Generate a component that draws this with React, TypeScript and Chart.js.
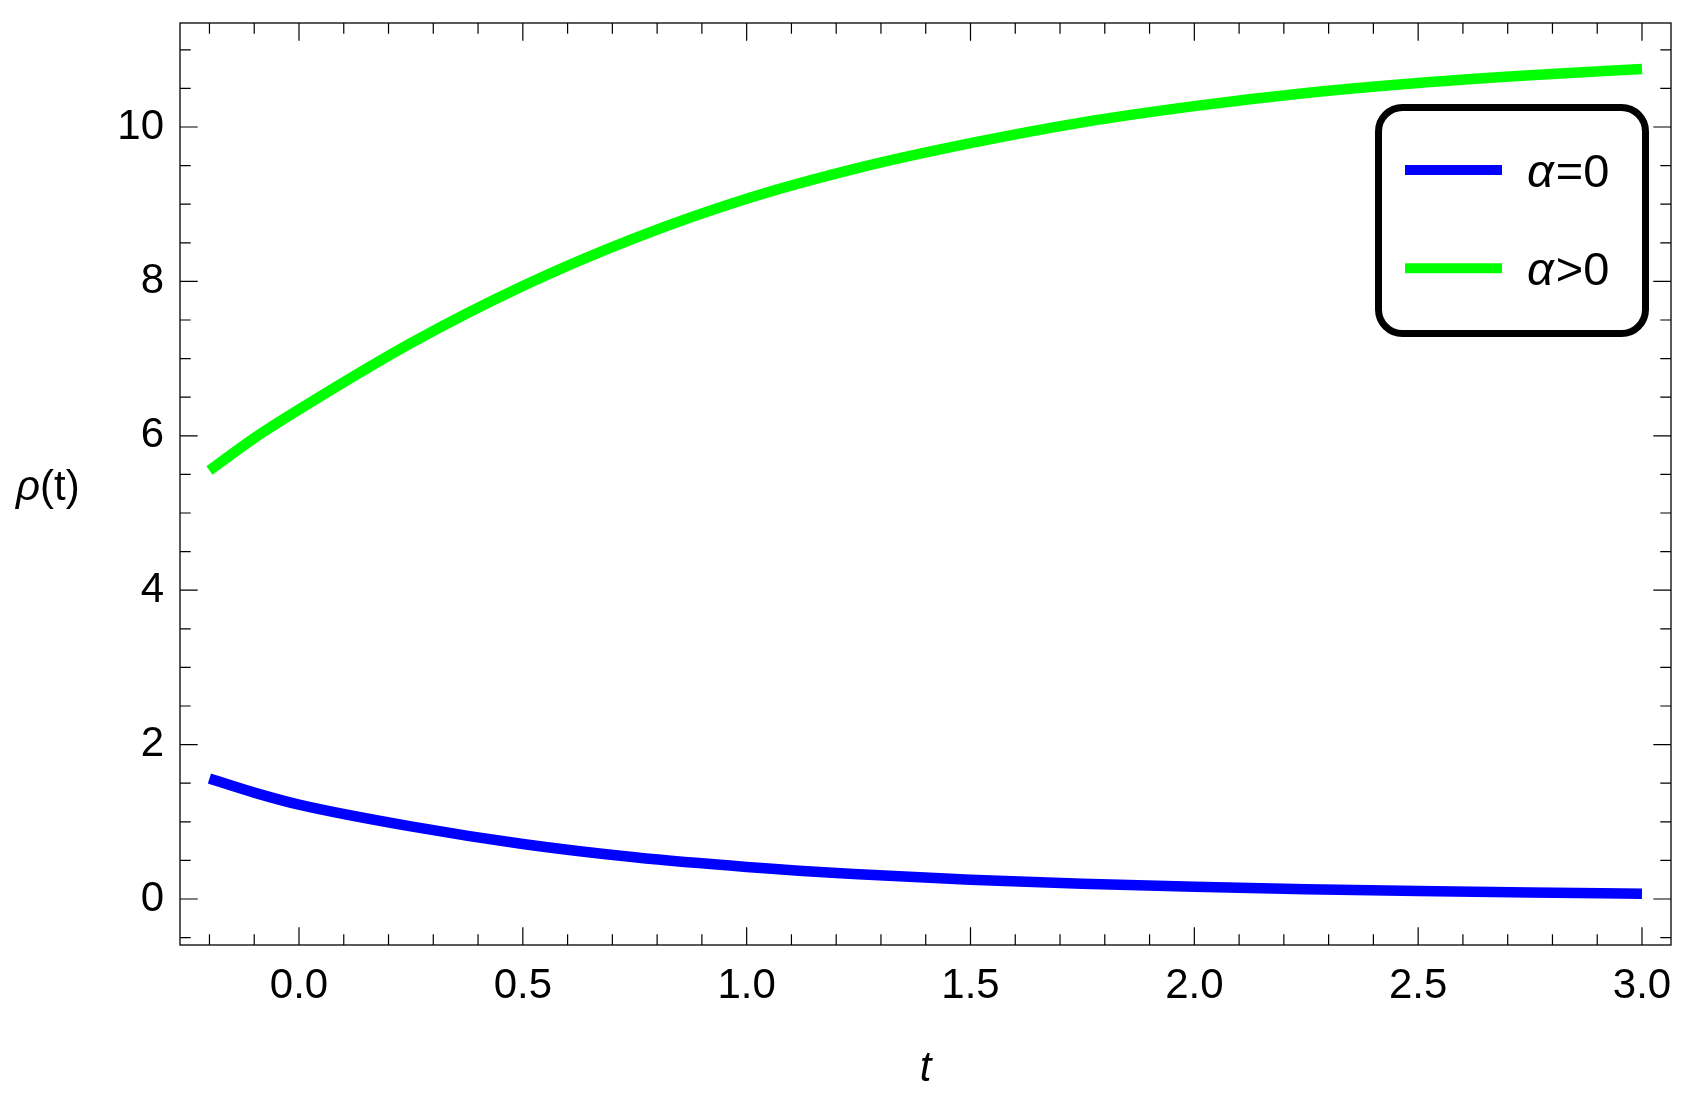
import React, { useEffect, useRef } from 'react';
import { Chart, registerables } from 'chart.js';

Chart.register(...registerables);

// ---- data ----
const tValues = [-0.2, -0.1, 0, 0.25, 0.5, 0.75, 1.0, 1.25, 1.5, 1.75, 2.0, 2.25, 2.5, 2.75, 3.0];
const rhoAlphaZero = [1.56, 1.378, 1.222, 0.94, 0.712, 0.54, 0.415, 0.32, 0.248, 0.196, 0.157, 0.127, 0.104, 0.085, 0.069];
const rhoAlphaPositive = [5.55, 5.97, 6.34, 7.2, 7.94, 8.56, 9.07, 9.47, 9.79, 10.06, 10.27, 10.44, 10.57, 10.67, 10.75];
const seriesLabels = ['α=0', 'α>0'];
const seriesColors = ['#0000ff', '#00ff00'];
const xTickValues = [0, 0.5, 1.0, 1.5, 2.0, 2.5, 3.0];
const yTickValues = [0, 2, 4, 6, 8, 10];
const xAxisTitle = 't';
const yAxisTitle = 'ρ(t)';

const X_MIN = -0.2658;
const X_MAX = 3.0648;
const Y_MIN = -0.596;
const Y_MAX = 11.347;
const X_MINOR_STEP = 0.1;
const Y_MINOR_STEP = 0.5;

const FONT = '"Liberation Sans", Arial, sans-serif';

const decorPlugin = {
  id: 'decor',
  afterDraw(chart: any) {
    const ctx = chart.ctx as CanvasRenderingContext2D;
    const { left, right, top, bottom } = chart.chartArea;
    const xs = chart.scales.x;
    const ys = chart.scales.y;
    ctx.save();
    // frame
    ctx.strokeStyle = '#000';
    ctx.lineWidth = 1.3;
    ctx.strokeRect(left, top, right - left, bottom - top);

    // ticks (inward on all sides)
    const majorLen = 17.7;
    const minorLen = 10.7;
    ctx.lineWidth = 1.2;
    ctx.beginPath();
    const isMajor = (v: number, arr: number[]) => arr.some((m) => Math.abs(m - v) < 1e-6);
    for (let i = Math.ceil(X_MIN / X_MINOR_STEP); i * X_MINOR_STEP <= X_MAX + 1e-9; i++) {
      const v = Math.round(i * X_MINOR_STEP * 1000) / 1000;
      const len = isMajor(v, xTickValues) ? majorLen : minorLen;
      const px = xs.getPixelForValue(v);
      ctx.moveTo(px, bottom);
      ctx.lineTo(px, bottom - len);
      ctx.moveTo(px, top);
      ctx.lineTo(px, top + len);
    }
    for (let i = Math.ceil(Y_MIN / Y_MINOR_STEP); i * Y_MINOR_STEP <= Y_MAX + 1e-9; i++) {
      const v = Math.round(i * Y_MINOR_STEP * 1000) / 1000;
      const len = isMajor(v, yTickValues) ? majorLen : minorLen;
      const py = ys.getPixelForValue(v);
      ctx.moveTo(left, py);
      ctx.lineTo(left + len, py);
      ctx.moveTo(right, py);
      ctx.lineTo(right - len, py);
    }
    ctx.stroke();

    // axis titles
    ctx.fillStyle = '#000';
    ctx.textBaseline = 'alphabetic';
    ctx.textAlign = 'center';
    ctx.font = `italic 42px ${FONT}`;
    ctx.fillText(xAxisTitle, (left + right) / 2, 1081);

    ctx.textAlign = 'left';
    const yTitleFirst = yAxisTitle.slice(0, 1);
    const yTitleRest = yAxisTitle.slice(1);
    ctx.font = `italic 42px ${FONT}`;
    let tx = 16;
    const ty = 500;
    ctx.fillText(yTitleFirst, tx, ty);
    tx += ctx.measureText(yTitleFirst).width;
    ctx.font = `42px ${FONT}`;
    ctx.fillText(yTitleRest, tx, ty);

    // legend
    const lx0 = 1378.5, ly0 = 107.5, lx1 = 1645.5, ly1 = 333.5, r = 24;
    ctx.beginPath();
    ctx.moveTo(lx0 + r, ly0);
    ctx.lineTo(lx1 - r, ly0);
    ctx.arcTo(lx1, ly0, lx1, ly0 + r, r);
    ctx.lineTo(lx1, ly1 - r);
    ctx.arcTo(lx1, ly1, lx1 - r, ly1, r);
    ctx.lineTo(lx0 + r, ly1);
    ctx.arcTo(lx0, ly1, lx0, ly1 - r, r);
    ctx.lineTo(lx0, ly0 + r);
    ctx.arcTo(lx0, ly0, lx0 + r, ly0, r);
    ctx.closePath();
    ctx.fillStyle = '#fff';
    ctx.fill();
    ctx.lineWidth = 7;
    ctx.strokeStyle = '#000';
    ctx.stroke();

    chart.data.datasets.forEach((ds: any, i: number) => {
      const cy = 170 + i * 98.3;
      ctx.beginPath();
      ctx.lineWidth = 10;
      ctx.lineCap = 'butt';
      ctx.strokeStyle = ds.borderColor;
      ctx.moveTo(1405, cy);
      ctx.lineTo(1502, cy);
      ctx.stroke();
      const label: string = ds.label;
      const first = label.slice(0, 1);
      const rest = label.slice(1);
      ctx.fillStyle = '#000';
      ctx.font = `italic 47px ${FONT}`;
      let x = 1527;
      const by = cy + 16.8;
      ctx.fillText(first, x, by);
      x += ctx.measureText(first).width + 2;
      ctx.font = `47px ${FONT}`;
      ctx.fillText(rest, x, by);
    });
    ctx.restore();
  },
};

export default function App() {
  const canvasRef = useRef<HTMLCanvasElement | null>(null);

  useEffect(() => {
    const canvas = canvasRef.current;
    if (!canvas) return;
    const chart = new Chart(canvas, {
      type: 'line',
      data: {
        datasets: [
          {
            label: seriesLabels[0],
            data: tValues.map((t, i) => ({ x: t, y: rhoAlphaZero[i] })),
            borderColor: seriesColors[0],
            backgroundColor: seriesColors[0],
            borderWidth: 10.5,
            pointRadius: 0,
            cubicInterpolationMode: 'monotone',
            fill: false,
          },
          {
            label: seriesLabels[1],
            data: tValues.map((t, i) => ({ x: t, y: rhoAlphaPositive[i] })),
            borderColor: seriesColors[1],
            backgroundColor: seriesColors[1],
            borderWidth: 10.5,
            pointRadius: 0,
            cubicInterpolationMode: 'monotone',
            fill: false,
          },
        ],
      },
      options: {
        animation: false,
        responsive: false,
        devicePixelRatio: 1,
        layout: { padding: { left: 0, top: 23, right: 34, bottom: 0 } },
        plugins: {
          legend: { display: false },
          tooltip: { enabled: false },
        },
        scales: {
          x: {
            type: 'linear',
            min: X_MIN,
            max: X_MAX,
            grid: { display: false, drawTicks: false },
            border: { display: false },
            ticks: {
              color: '#000',
              font: { family: FONT, size: 42 },
              padding: 16,
              maxRotation: 0,
              autoSkip: false,
              callback: (v: any) => Number(v).toFixed(1),
            },
            afterBuildTicks: (scale: any) => {
              scale.ticks = xTickValues.map((v) => ({ value: v }));
            },
            afterFit: (scale: any) => {
              scale.height = 157;
              scale.paddingLeft = 0;
              scale.paddingRight = 0;
            },
          },
          y: {
            type: 'linear',
            min: Y_MIN,
            max: Y_MAX,
            grid: { display: false, drawTicks: false },
            border: { display: false },
            ticks: {
              color: '#000',
              font: { family: FONT, size: 42 },
              padding: 16,
              autoSkip: false,
              callback: (v: any) => String(Math.round(Number(v))),
            },
            afterBuildTicks: (scale: any) => {
              scale.ticks = yTickValues.map((v) => ({ value: v }));
            },
            afterFit: (scale: any) => {
              scale.width = 180;
              scale.paddingTop = 0;
              scale.paddingBottom = 0;
            },
          },
        },
      } as any,
      plugins: [decorPlugin],
    });
    return () => chart.destroy();
  }, []);

  return (
    <div style={{ position: 'absolute', left: 0, top: 0, width: 1705, height: 1102, background: '#fff' }}>
      <canvas ref={canvasRef} width={1705} height={1102} style={{ display: 'block', width: 1705, height: 1102 }} />
    </div>
  );
}
